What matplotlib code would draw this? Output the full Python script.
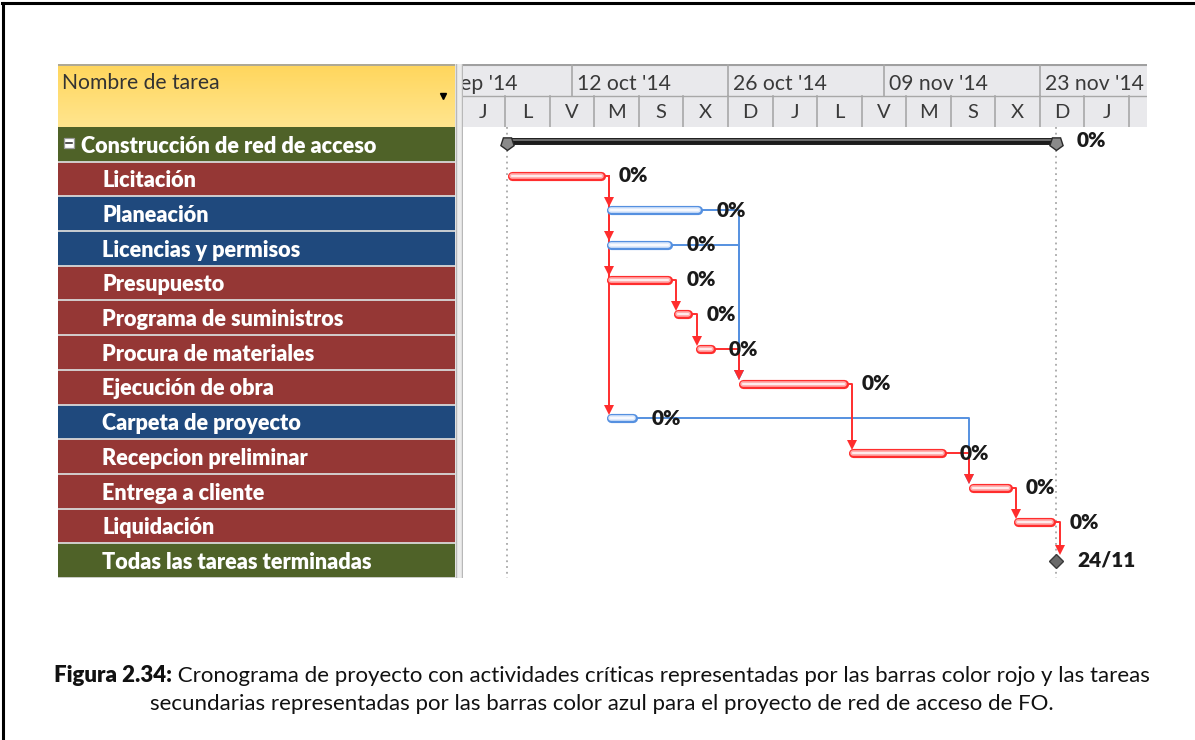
import datetime as dt

import matplotlib
matplotlib.use("Agg")
import matplotlib.pyplot as plt
import matplotlib.dates as mdates
import numpy as np
from matplotlib.patches import Rectangle

plt.rcParams["font.family"] = ["Lato", "DejaVu Sans"]

tasks = [
    "Construcción de red de acceso",
    "Licitación",
    "Planeación",
    "Licencias y permisos",
    "Presupuesto",
    "Programa de suministros",
    "Procura de materiales",
    "Ejecución de obra",
    "Carpeta de proyecto",
    "Recepcion preliminar",
    "Entrega a cliente",
    "Liquidación",
    "Todas las tareas terminadas",
]
kinds = ["summary", "critical", "normal", "normal", "critical", "critical",
         "critical", "critical", "normal", "critical", "critical", "critical",
         "milestone"]
starts = ["2014-10-06 04:00", "2014-10-06 04:00", "2014-10-15 03:00",
          "2014-10-15 03:00", "2014-10-15 03:00", "2014-10-21 02:00",
          "2014-10-23 01:00", "2014-10-26 21:30", "2014-10-15 03:00",
          "2014-11-05 20:30", "2014-11-16 15:00", "2014-11-20 14:00",
          "2014-11-24 10:30"]
finishes = ["2014-11-24 10:30", "2014-10-14 23:00", "2014-10-23 18:00",
            "2014-10-21 00:00", "2014-10-21 00:00", "2014-10-22 20:30",
            "2014-10-24 20:00", "2014-11-05 18:30", "2014-10-17 22:00",
            "2014-11-14 13:40", "2014-11-20 12:00", "2014-11-24 10:30",
            "2014-11-24 10:30"]
pct_done = [0, 0, 0, 0, 0, 0, 0, 0, 0, 0, 0, 0, 0]
# (predecessor, successor) finish-to-start links
links = [(1, 2), (1, 3), (1, 4), (1, 8), (2, 7), (3, 7), (4, 5), (5, 6),
         (6, 7), (7, 9), (8, 10), (9, 10), (10, 11), (11, 12)]

view_start = "2014-10-02 05:00"
view_end = "2014-12-02 14:40"
major_anchor, major_step = "2014-09-28", 14  # weeks tier
minor_anchor, minor_step = "2014-10-02", 4   # days tier
meses = ["ene", "feb", "mar", "abr", "may", "jun", "jul", "ago", "sep", "oct", "nov", "dic"]
dias = "LMXJVSD"

caption_bold = "Figura 2.34:"
caption_1 = (" Cronograma de proyecto con actividades críticas representadas por "
             "las barras color rojo y las tareas")
caption_2 = ("secundarias representadas por las barras color azul para el "
             "proyecto de red de acceso de FO.")

row_colors = {"summary": "#4f6228", "milestone": "#4f6228",
              "critical": "#953735", "normal": "#1f497d"}
RED, RED_FILL = "#ff2d2d", "#ffb0b0"
BLUE, BLUE_FILL = "#5590e0", "#dfeafb"

# ---- figure ----
W, H = 1195, 740
fig = plt.figure(figsize=(W / 100, H / 100), dpi=100)


def px_axes(x0, y0, x1, y1):
    ax = fig.add_axes([x0 / W, 1 - y1 / H, (x1 - x0) / W, (y1 - y0) / H])
    ax.set_axis_off()
    return ax


def num(s):
    return mdates.date2num(dt.datetime.fromisoformat(s))


n = len(tasks)
ROW_PX = (578 - 127) / n

# page border (top and left only)
fig.add_artist(plt.Line2D([2 / W, 1], [1 - 3 / H, 1 - 3 / H], color="black", lw=2.2))
fig.add_artist(plt.Line2D([3 / W, 3 / W], [0, 1 - 3 / H], color="black", lw=2.2))

# ---- left table ----
hdr = px_axes(58, 64, 455, 127)
hdr.set_xlim(0, 397)
hdr.set_ylim(63, 0)
grad = np.linspace(0, 1, 64)[:, None]
hdr.imshow(grad, extent=(0, 397, 63, 0), aspect="auto",
           cmap=matplotlib.colors.LinearSegmentedColormap.from_list("y", ["#ffd65c", "#ffe58e"]))
hdr.plot([0, 397], [0.5, 0.5], color="#a0a0a0", lw=1.2)
hdr.text(4, 19, "Nombre de tarea", fontsize=15.2, color="#333333", va="center")
hdr.plot([385], [32], marker="v", ms=4.5, color="black")

tbl = px_axes(58, 127, 455, 578)
tbl.set_xlim(0, 397)
tbl.set_ylim(n - 0.5, -0.5)
for i, (name, kind) in enumerate(zip(tasks, kinds)):
    tbl.add_patch(Rectangle((0, i - 0.5), 397, 1, facecolor=row_colors[kind],
                            edgecolor="none"))
    tbl.plot([0, 397], [i + 0.5, i + 0.5], color="#d8d8d8", lw=1.3)
    x_txt = 23 if kind == "summary" else 44
    tbl.text(x_txt, i + 0.05, name, fontsize=15.6, fontweight="heavy", color="white",
             va="center")
    if kind == "summary":
        box_h = 10 / ROW_PX
        tbl.add_patch(Rectangle((6, i - box_h / 2 - 0.05), 10, box_h, facecolor="white",
                                edgecolor="#9a9a9a", lw=0.9))
        tbl.plot([8.3, 13.7], [i - 0.05, i - 0.05], color="#222222", lw=1.1)

# splitter between table and chart
spl = px_axes(455, 64, 463, 578)
spl.set_xlim(0, 8)
spl.set_ylim(0, 1)
spl.add_patch(Rectangle((0, 0), 8, 1, facecolor="#ececec", edgecolor="none"))
spl.plot([1, 1], [0, 1], color="#b8b8b8", lw=1)
spl.plot([7, 7], [0, 1], color="#b8b8b8", lw=1)

# ---- timescale ----
x_lo, x_hi = num(view_start), num(view_end)
sc = px_axes(463, 64, 1147, 127)
sc.set_xlim(x_lo, x_hi)
sc.set_ylim(2.07, 0)
sc.add_patch(Rectangle((x_lo, 0), x_hi - x_lo, 2.07, facecolor="#e9e9ec", edgecolor="none"))
sc.plot([x_lo, x_hi], [0.03, 0.03], color="#a0a0a0", lw=1.5)
sc.plot([x_lo, x_hi], [1.05, 1.05], color="#a8a8a8", lw=1)

d = dt.datetime.fromisoformat(major_anchor)
while mdates.date2num(d) < x_hi:
    x = mdates.date2num(d)
    sc.plot([x, x], [0, 1.05], color="#a8a8a8", lw=1.2)
    lbl = f"{d.day:02d} {meses[d.month - 1]} '{d.year % 100}"
    sc.text(x + 0.45, 0.65, lbl, fontsize=15.2, color="#3a3a3a", va="center",
            clip_on=True)
    d += dt.timedelta(days=major_step)

d = dt.datetime.fromisoformat(minor_anchor)
while mdates.date2num(d) < x_hi:
    x = mdates.date2num(d)
    if x > x_lo:
        sc.plot([x, x], [1.05, 2.07], color="#a8a8a8", lw=1.2)
    sc.text(x + minor_step / 2, 1.6, dias[d.weekday()], fontsize=14.5,
            color="#3a3a3a", ha="center", va="center", clip_on=True)
    d += dt.timedelta(days=minor_step)

# ---- gantt ----
ax = px_axes(463, 127, 1147, 578)
ax.set_xlim(x_lo, x_hi)
ax.set_ylim(n - 0.5, -0.5)
day_px = (x_hi - x_lo) / 684.0  # days per pixel
row_px = 1.0 / ROW_PX           # rows per pixel

s_num = [num(s) for s in starts]
f_num = [num(f) for f in finishes]
bar_y = [i - 3.5 * row_px for i in range(n)]
bar_y[-1] = n - 1 + 0.5 * row_px

# project start / finish guides
for x in (s_num[0], f_num[0]):
    ax.plot([x, x], [-0.5, n - 0.5], color="#a8a8a8", lw=1.3, ls=(0, (1, 2.2)), zorder=1)


def link_color(k):
    return RED if kinds[k] in ("critical", "summary") else BLUE


# connectors: blue first so red sits on top
for pass_color in (BLUE, RED):
    for p, s in links:
        col = link_color(p)
        if col != pass_color:
            continue
        xc = max(f_num[p] + 4 * day_px, s_num[s] + 0.5 * day_px)
        top = bar_y[s] - (7 if kinds[s] == "milestone" else 4.5) * row_px
        ax.plot([f_num[p], xc, xc], [bar_y[p], bar_y[p], top - 4 * row_px],
                color=col, lw=1.4, zorder=2, solid_joinstyle="round")
        ax.plot([xc], [top - 4 * row_px], marker="v", ms=7, color=col, zorder=4,
                markeredgewidth=0)

# bars
inset = 4.5 * day_px
LBL = dict(fontsize=15, fontweight="heavy", color="#1a1a1a", va="center", zorder=5)
for i, kind in enumerate(kinds):
    y = bar_y[i]
    if kind in ("critical", "normal"):
        edge, fill = (RED, RED_FILL) if kind == "critical" else (BLUE, BLUE_FILL)
        xs = [s_num[i] + inset, f_num[i] - inset]
        ax.plot(xs, [y, y], color=edge, lw=6.6, solid_capstyle="round", zorder=3)
        ax.plot(xs, [y, y], color=fill, lw=4.0, solid_capstyle="round", zorder=3)
        ax.plot(xs, [y, y], color="white", lw=1.2, zorder=3, alpha=0.9)
        ax.text(f_num[i] + 14 * day_px, y, f"{pct_done[i]}%", **LBL)
    elif kind == "summary":
        xs = [s_num[i], f_num[i]]
        ax.plot(xs, [y, y], color="#1c1c1c", lw=5.0, zorder=3)
        ax.plot(xs, [y - 0.6 * row_px] * 2, color="#7a7a7a", lw=1.2, zorder=3)
        ax.plot(xs, [y + 2 * row_px] * 2, ls="none", marker=(5, 0, 180), ms=10,
                markerfacecolor="#8a8a8a", markeredgecolor="#2a2a2a", mew=1.0, zorder=4)
        ax.text(f_num[i] + 21 * day_px, y, f"{pct_done[i]}%", **LBL)
    else:
        ax.plot([f_num[i]], [y], marker="D", ms=7.5, markerfacecolor="#6a6a6a",
                markeredgecolor="#3a3a3a", mew=1.0, zorder=4)
        fd = dt.datetime.fromisoformat(finishes[i])
        ax.text(f_num[i] + 21 * day_px, y - 1 * row_px, f"{fd.day}/{fd.month}", **LBL)

# ---- caption (bold lead-in + regular text, centred together) ----
cx = 602 / W
t_b = fig.text(0, 1 - 676 / H, caption_bold, fontsize=16, fontweight="heavy",
               color="#111111", va="center")
t_r = fig.text(0, 1 - 676 / H, caption_1, fontsize=16, color="#111111", va="center")
fig.text(cx, 1 - 704 / H, caption_2, fontsize=16, color="#111111", va="center",
         ha="center")
fig.canvas.draw()
r = fig.canvas.get_renderer()
wb = t_b.get_window_extent(r).width / W
wr = t_r.get_window_extent(r).width / W
left = cx - (wb + wr) / 2
t_b.set_x(left)
t_r.set_x(left + wb)

fig.savefig("out.png", dpi=100)
